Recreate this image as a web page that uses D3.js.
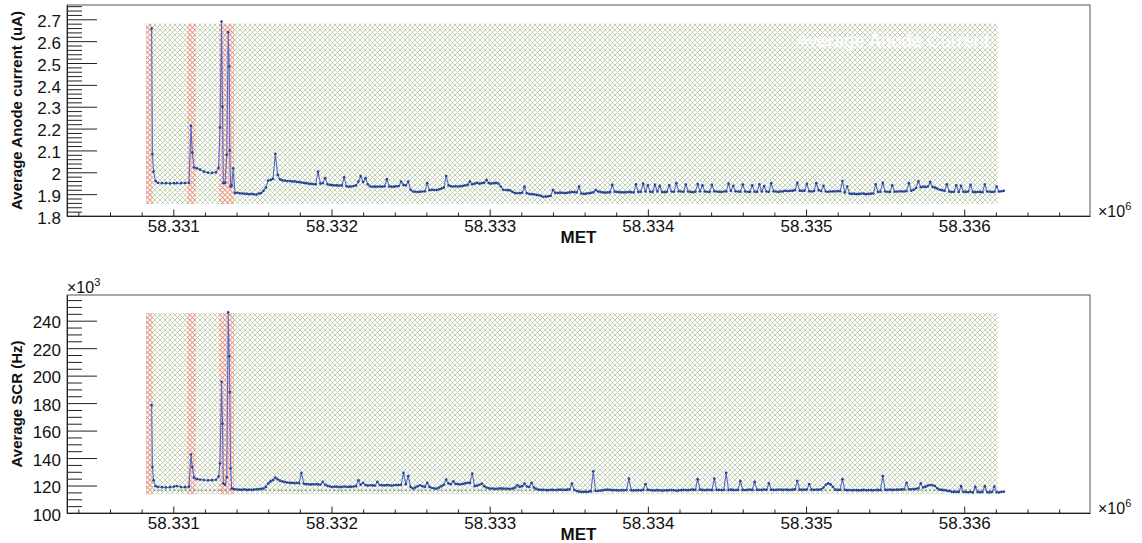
<!DOCTYPE html>
<html>
<head>
<meta charset="utf-8">
<script src="https://cdn.jsdelivr.net/npm/d3@7"></script>
<style>
  html, body { margin: 0; padding: 0; background: #fff; }
  svg { display: block; font-family: "Liberation Sans", Arial, Helvetica, sans-serif; }
</style>
</head>
<body>
<svg id="chart" width="1142" height="543"></svg>
<script>
// Sample times, seconds after metStart
const metStart = 58330000;
const metOffsets = [
  863, 868, 875, 888, 903, 929, 954, 979, 1004, 1023,
  1049, 1074, 1099, 1112, 1120, 1131, 1150, 1169, 1194, 1220,
  1245, 1270, 1286, 1295, 1305, 1311, 1316, 1327, 1338, 1347,
  1354, 1357, 1362, 1369, 1379,
  1390, 1405, 1420, 1435, 1450, 1465, 1480, 1495, 1510, 1525,
  1540, 1555, 1570, 1585, 1600, 1615, 1630, 1645, 1660, 1675,
  1690, 1705, 1720, 1735, 1750, 1765, 1780, 1795, 1810, 1825,
  1840, 1855, 1870, 1885, 1900, 1915, 1930, 1945, 1960, 1975,
  1990, 2005, 2020, 2035, 2050, 2065, 2080, 2095, 2110, 2125,
  2140, 2155, 2170, 2185, 2200, 2215, 2230, 2245, 2260, 2275,
  2290, 2305, 2320, 2335, 2350, 2365, 2380, 2395, 2410, 2425,
  2440, 2455, 2470, 2485, 2500, 2515, 2530, 2545, 2560, 2575,
  2590, 2605, 2620, 2635, 2650, 2665, 2680, 2695, 2710, 2725,
  2740, 2755, 2770, 2785, 2800, 2815, 2830, 2845, 2860, 2875,
  2890, 2905, 2920, 2935, 2950, 2965, 2980, 2995, 3010, 3025,
  3040, 3055, 3070, 3085, 3100, 3115, 3130, 3145, 3160, 3175,
  3190, 3205, 3220, 3235, 3250, 3265, 3280, 3295, 3310, 3325,
  3340, 3355, 3370, 3385, 3400, 3415, 3430, 3445, 3460, 3475,
  3490, 3505, 3520, 3535, 3550, 3565, 3580, 3595, 3610, 3625,
  3640, 3655, 3670, 3685, 3700, 3715, 3730, 3745, 3760, 3775,
  3790, 3805, 3820, 3835, 3850, 3865, 3880, 3895, 3910, 3925,
  3940, 3955, 3970, 3985, 4000, 4015, 4030, 4045, 4060, 4075,
  4090, 4105, 4120, 4135, 4150, 4165, 4180, 4195, 4210, 4225,
  4240, 4255, 4270, 4285, 4300, 4315, 4330, 4345, 4360, 4375,
  4390, 4405, 4420, 4435, 4450, 4465, 4480, 4495, 4510, 4525,
  4540, 4555, 4570, 4585, 4600, 4615, 4630, 4645, 4660, 4675,
  4690, 4705, 4720, 4735, 4750, 4765, 4780, 4795, 4810, 4825,
  4840, 4855, 4870, 4885, 4900, 4915, 4930, 4945, 4960, 4975,
  4990, 5005, 5020, 5035, 5050, 5065, 5080, 5095, 5110, 5125,
  5140, 5155, 5170, 5185, 5200, 5215, 5230, 5245, 5260, 5275,
  5290, 5305, 5320, 5335, 5350, 5365, 5380, 5395, 5410, 5425,
  5440, 5455, 5470, 5485, 5500, 5515, 5530, 5545, 5560, 5575,
  5590, 5605, 5620, 5635, 5650, 5665, 5680, 5695, 5710, 5725,
  5740, 5755, 5770, 5785, 5800, 5815, 5830, 5845, 5860, 5875,
  5890, 5905, 5920, 5935, 5950, 5965, 5980, 5995, 6010, 6025,
  6040, 6055, 6070, 6085, 6100, 6115, 6130, 6145, 6160, 6175,
  6190, 6205, 6220, 6235, 6250
];

// Average anode current (uA)
const anodeCurrent = [
  2.657, 2.084, 2.003, 1.960, 1.952, 1.950, 1.950, 1.949, 1.950, 1.950,
  1.950, 1.951, 1.952, 2.212, 2.090, 2.022, 2.018, 2.012, 2.003, 1.998,
  1.997, 2.000, 2.020, 2.205, 2.690, 2.300, 1.950, 1.952, 2.080, 2.641,
  2.484, 2.100, 1.934, 1.940, 2.018,
  1.905, 1.906, 1.904, 1.903, 1.902, 1.901, 1.900, 1.901, 1.899, 1.898,
  1.903, 1.905, 1.915, 1.930, 1.962, 1.965, 1.970, 2.084, 1.988, 1.968,
  1.963, 1.962, 1.960, 1.960, 1.958, 1.958, 1.956, 1.955, 1.953, 1.952,
  1.950, 1.948, 1.947, 1.946, 1.945, 2.003, 1.948, 1.950, 1.973, 1.945,
  1.942, 1.941, 1.940, 1.940, 1.939, 1.940, 1.977, 1.936, 1.934, 1.935,
  1.937, 1.940, 1.957, 1.983, 1.955, 1.973, 1.945, 1.935, 1.934, 1.934,
  1.934, 1.935, 1.934, 1.936, 1.968, 1.935, 1.934, 1.934, 1.936, 1.937,
  1.957, 1.942, 1.940, 1.957, 1.920, 1.912, 1.911, 1.910, 1.911, 1.912,
  1.913, 1.950, 1.918, 1.920, 1.919, 1.919, 1.922, 1.925, 1.930, 1.983,
  1.940, 1.936, 1.935, 1.936, 1.935, 1.936, 1.938, 1.940, 1.942, 1.957,
  1.945, 1.948, 1.952, 1.948, 1.950, 1.952, 1.965, 1.950, 1.948, 1.950,
  1.952, 1.948, 1.935, 1.920, 1.919, 1.918, 1.917, 1.910, 1.905, 1.904,
  1.905, 1.906, 1.934, 1.904, 1.901, 1.900, 1.899, 1.897, 1.895, 1.892,
  1.888, 1.889, 1.890, 1.892, 1.919, 1.906, 1.905, 1.907, 1.906, 1.905,
  1.906, 1.908, 1.910, 1.909, 1.908, 1.934, 1.903, 1.901, 1.902, 1.904,
  1.906, 1.908, 1.919, 1.912, 1.910, 1.908, 1.907, 1.908, 1.909, 1.942,
  1.911, 1.910, 1.909, 1.908, 1.908, 1.909, 1.910, 1.909, 1.908, 1.945,
  1.910, 1.911, 1.948, 1.912, 1.940, 1.911, 1.910, 1.943, 1.912, 1.938,
  1.910, 1.909, 1.911, 1.940, 1.912, 1.911, 1.950, 1.913, 1.912, 1.911,
  1.944, 1.912, 1.910, 1.909, 1.911, 1.946, 1.913, 1.940, 1.912, 1.911,
  1.910, 1.942, 1.913, 1.912, 1.911, 1.910, 1.912, 1.913, 1.948, 1.915,
  1.938, 1.913, 1.912, 1.911, 1.944, 1.912, 1.911, 1.910, 1.940, 1.911,
  1.910, 1.945, 1.912, 1.937, 1.912, 1.911, 1.950, 1.913, 1.912, 1.910,
  1.912, 1.913, 1.915, 1.914, 1.915, 1.916, 1.918, 1.952, 1.916, 1.915,
  1.916, 1.947, 1.913, 1.912, 1.914, 1.950, 1.918, 1.914, 1.938, 1.912,
  1.911, 1.912, 1.913, 1.912, 1.914, 1.913, 1.960, 1.908, 1.935, 1.903,
  1.901, 1.902, 1.900, 1.901, 1.903, 1.902, 1.900, 1.901, 1.902, 1.903,
  1.945, 1.910, 1.911, 1.952, 1.912, 1.911, 1.910, 1.940, 1.911, 1.912,
  1.912, 1.913, 1.912, 1.914, 1.950, 1.915, 1.920, 1.928, 1.958, 1.932,
  1.934, 1.933, 1.935, 1.955, 1.933, 1.930, 1.925, 1.920, 1.918, 1.915,
  1.945, 1.912, 1.910, 1.911, 1.940, 1.910, 1.938, 1.911, 1.910, 1.912,
  1.942, 1.910, 1.909, 1.911, 1.910, 1.909, 1.944, 1.912, 1.911, 1.910,
  1.911, 1.935, 1.912, 1.913, 1.915
];

// Average SCR, in units of 10^3 Hz
const scrRate = [
  178.5, 133.5, 123.8, 119.5, 119.0, 118.8, 118.6, 118.8, 119.2, 119.6,
  118.9, 118.8, 119.2, 142.6, 133.5, 125.8, 124.6, 124.3, 124.0, 123.8,
  123.9, 124.2, 126.5, 136.0, 195.5, 165.0, 121.4, 120.5, 126.0, 246.0,
  214.0, 188.0, 132.4, 117.8, 117.5,
  117.3, 117.1, 117.0, 116.9, 117.2, 116.8, 117.0, 116.9, 117.1, 117.2,
  117.4, 117.6, 117.8, 119.0, 121.5, 123.0, 124.0, 125.8, 124.5, 123.5,
  123.0, 122.5, 122.2, 122.0, 121.9, 121.8, 121.9, 121.7, 129.2, 121.3,
  121.0, 120.9, 120.8, 120.9, 121.0, 120.8, 120.7, 122.6, 120.5, 119.8,
  119.3, 119.0, 119.1, 119.2, 118.9, 119.0, 119.3, 119.1, 119.0, 119.2,
  119.3, 119.5, 123.8, 120.5, 121.9, 120.3, 120.0, 120.2, 120.1, 120.0,
  122.6, 120.4, 120.2, 120.1, 120.3, 120.2, 120.0, 120.2, 120.4, 120.3,
  120.5, 129.2, 121.0, 126.8, 119.0, 117.8, 118.5, 119.5, 120.2, 119.5,
  119.0, 121.9, 119.0, 118.2, 117.9, 117.8, 118.5, 119.5, 120.5, 124.3,
  121.5, 121.0, 123.1, 121.2, 121.0, 120.9, 121.2, 121.5, 121.9, 122.0,
  128.7, 119.5, 120.0, 120.5, 121.4, 119.5, 118.5, 117.9, 117.8, 117.7,
  117.6, 117.8, 117.9, 117.7, 117.8, 117.6, 117.5, 117.8, 118.5, 120.2,
  119.0, 119.5, 121.4, 119.3, 119.0, 121.9, 118.5, 117.5, 117.0, 116.8,
  116.9, 116.7, 116.6, 116.8, 116.9, 116.7, 116.8, 117.0, 116.9, 116.8,
  117.0, 117.2, 121.4, 116.8, 116.0, 115.5, 115.3, 115.4, 115.3, 115.5,
  115.8, 130.4, 116.0, 116.2, 116.3, 116.5, 116.8, 117.0, 116.8, 116.6,
  116.6, 116.5, 116.4, 116.6, 116.5, 116.7, 125.0, 116.6, 116.4, 116.5,
  116.6, 116.4, 116.8, 121.0, 116.9, 116.7, 116.5, 116.4, 116.6, 116.5,
  116.3, 116.5, 116.4, 116.6, 116.7, 116.5, 116.3, 116.4, 116.6, 116.8,
  116.7, 116.6, 116.9, 117.0, 116.8, 124.6, 117.0, 116.8, 116.6, 116.9,
  116.8, 116.7, 125.0, 116.9, 116.8, 116.7, 116.9, 129.2, 116.8, 117.0,
  116.8, 116.7, 116.9, 123.3, 116.8, 116.7, 116.9, 117.0, 116.8, 122.6,
  117.0, 116.9, 116.8, 117.1, 116.9, 121.5, 117.0, 116.8, 116.9, 117.1,
  117.0, 116.9, 117.1, 116.9, 116.8, 117.0, 117.2, 123.3, 117.0, 116.9,
  117.0, 117.1, 121.0, 117.0, 116.9, 117.1, 117.0, 117.3, 118.5, 120.5,
  121.5, 120.8, 119.0, 117.0, 116.8, 116.9, 124.6, 116.8, 116.6, 116.7,
  116.5, 116.7, 116.6, 116.4, 116.6, 116.8, 116.5, 116.7, 116.6, 116.5,
  116.7, 116.8, 116.6, 126.8, 116.8, 116.9, 117.0, 116.8, 116.9, 117.0,
  117.0, 117.2, 117.1, 122.0, 117.3, 117.2, 117.4, 117.5, 118.0, 121.5,
  118.5, 119.2, 120.0, 120.3, 120.2, 119.6, 118.0, 117.0, 116.8, 116.6,
  116.3, 116.0, 115.5, 115.3, 115.4, 115.2, 119.5, 115.3, 115.2, 115.1,
  115.3, 115.0, 119.0, 115.2, 115.1, 115.3, 119.5, 115.2, 115.0, 115.3,
  119.2, 115.1, 115.0, 115.4, 115.5
];

// Axis ticks
const xMajorTicks = [58331000, 58332000, 58333000, 58334000, 58335000, 58336000];
const xTickLabels = ["58.331", "58.332", "58.333", "58.334", "58.335", "58.336"];
const anodeTicks = [1.8, 1.9, 2.0, 2.1, 2.2, 2.3, 2.4, 2.5, 2.6, 2.7];
const anodeTickLabels = ["1.8", "1.9", "2", "2.1", "2.2", "2.3", "2.4", "2.5", "2.6", "2.7"];
const scrTicks = [100, 120, 140, 160, 180, 200, 220, 240];
const scrTickLabels = ["100", "120", "140", "160", "180", "200", "220", "240"];

// Good-time window (green) and excluded intervals (red)
const goodWindow = [58330872, 58336213];
const badWindows = [[58330827, 58330872], [58331087, 58331143], [58331289, 58331384]];
const anodeBand = [1.855, 2.68];
const scrBand = [113.6, 245.6];
const scrReference = 116.6;

const svg = d3.select("#chart");
const FONT = "'Liberation Sans', Arial, Helvetica, sans-serif";

// Hatch patterns
const defs = svg.append("defs");
function hatch(id, c1, c2, w) {
  const p = defs.append("pattern").attr("id", id)
    .attr("patternUnits", "userSpaceOnUse").attr("width", 5).attr("height", 5);
  p.append("path").attr("d", "M-1,-1L6,6M-1,4L1,6M4,-1L6,1").attr("stroke", c1).attr("stroke-width", w);
  p.append("path").attr("d", "M6,-1L-1,6M-1,1L1,-1M4,6L6,4").attr("stroke", c2).attr("stroke-width", w);
}
hatch("hatchGood", "#b7d69a", "#c0c4b8", 0.9);
hatch("hatchBad", "#e6937e", "#e4a191", 1.1);

const x = d3.scaleLinear().domain([58330328, 58336795]).range([67, 1090]);
const xMinor = d3.range(58330400, 58336800, 200).filter(v => v % 1000 !== 0);

function panel(cfg) {
  const g = svg.append("g");
  const y = d3.scaleLinear().domain(cfg.yDomain).range([cfg.bottom, cfg.top]);
  const bandY = y(cfg.band[1]), bandH = y(cfg.band[0]) - y(cfg.band[1]);

  // shaded windows
  g.append("rect")
    .attr("x", x(goodWindow[0])).attr("width", x(goodWindow[1]) - x(goodWindow[0]))
    .attr("y", bandY).attr("height", bandH)
    .attr("fill", "url(#hatchGood)");
  badWindows.forEach(w => {
    g.append("rect")
      .attr("x", x(w[0])).attr("width", x(w[1]) - x(w[0]))
      .attr("y", bandY).attr("height", bandH).attr("fill", "#fff");
    g.append("rect")
      .attr("x", x(w[0])).attr("width", x(w[1]) - x(w[0]))
      .attr("y", bandY).attr("height", bandH).attr("fill", "url(#hatchBad)");
  });

  if (cfg.reference !== undefined) {
    g.append("line")
      .attr("x1", x(goodWindow[0])).attr("x2", x(goodWindow[1]))
      .attr("y1", y(cfg.reference)).attr("y2", y(cfg.reference))
      .attr("stroke", "#777").attr("stroke-width", 1).attr("stroke-dasharray", "2,2");
  }

  // series
  const pts = metOffsets.map((t, i) => [metStart + t, cfg.values[i]]);
  g.append("path").datum(pts)
    .attr("fill", "none").attr("stroke", "#506cc4").attr("stroke-width", 1.1)
    .attr("d", d3.line().x(d => x(d[0])).y(d => y(d[1])));
  g.selectAll("circle.pt").data(pts).join("circle")
    .attr("class", "pt")
    .attr("cx", d => x(d[0])).attr("cy", d => y(d[1])).attr("r", 1.35)
    .attr("fill", "#2b4596");

  // frame
  g.append("rect").attr("x", 67).attr("y", cfg.top).attr("width", 1090 - 67).attr("height", cfg.bottom - cfg.top)
    .attr("fill", "none").attr("stroke", "#555").attr("stroke-width", 1);

  // y axis
  const yAxis = d3.axisLeft(y).tickValues(cfg.yTicks).tickFormat((d, i) => cfg.yLabels[i])
    .tickSizeInner(-30).tickSizeOuter(0).tickPadding(6);
  const ya = g.append("g").attr("transform", "translate(67,0)").call(yAxis);
  ya.selectAll("text").attr("font-family", FONT).attr("font-size", 17).attr("fill", "#111").attr("dy", "0.42em");
  ya.select(".domain").attr("stroke", "#222");
  ya.selectAll(".tick line").attr("stroke", "#222");
  const ym = g.append("g").attr("transform", "translate(67,0)")
    .call(d3.axisLeft(y).tickValues(cfg.yMinor).tickFormat("").tickSizeInner(-15).tickSizeOuter(0));
  ym.select(".domain").remove();
  ym.selectAll(".tick line").attr("stroke", "#222");

  // x axis
  const xAxis = d3.axisBottom(x).tickValues(xMajorTicks).tickFormat((d, i) => xTickLabels[i])
    .tickSizeInner(-6.5).tickSizeOuter(0).tickPadding(4);
  const xa = g.append("g").attr("transform", `translate(0,${cfg.bottom})`).call(xAxis);
  xa.selectAll("text").attr("font-family", FONT).attr("font-size", 17).attr("fill", "#111");
  xa.select(".domain").attr("stroke", "#222");
  xa.selectAll(".tick line").attr("stroke", "#222");
  const xm = g.append("g").attr("transform", `translate(0,${cfg.bottom})`)
    .call(d3.axisBottom(x).tickValues(xMinor).tickFormat("").tickSizeInner(-3.5).tickSizeOuter(0));
  xm.select(".domain").remove();
  xm.selectAll(".tick line").attr("stroke", "#222");

  // titles
  g.append("text").attr("x", 578.5).attr("y", cfg.bottom + 27)
    .attr("text-anchor", "middle").attr("font-family", FONT).attr("font-weight", "bold")
    .attr("font-size", 17).attr("fill", "#111").text("MET");
  g.append("text")
    .attr("transform", `translate(22,${(cfg.top + cfg.bottom) / 2}) rotate(-90)`)
    .attr("text-anchor", "middle").attr("font-family", FONT).attr("font-weight", "bold")
    .attr("font-size", 15).attr("fill", "#111").text(cfg.yTitle);

  const ex = g.append("text").attr("x", 1098).attr("y", cfg.bottom + 1)
    .attr("font-family", FONT).attr("font-size", 16).attr("fill", "#111");
  ex.append("tspan").text("\u00d710");
  ex.append("tspan").attr("font-size", 11).attr("dy", -7).text("6");
  return { g, y };
}

const anodeMinor = d3.range(1.82, 2.77, 0.02).filter(v => Math.abs(v * 10 - Math.round(v * 10)) > 1e-6);
const anodePanel = panel({
  top: 5, bottom: 216, yDomain: [1.8, 2.7654],
  values: anodeCurrent, band: anodeBand,
  yTicks: anodeTicks, yLabels: anodeTickLabels, yMinor: anodeMinor,
  yTitle: "Average Anode current (uA)"
});
anodePanel.g.append("text").attr("x", 796).attr("y", 47)
  .attr("font-family", FONT).attr("font-size", 18.5).attr("fill", "#fff")
  .text("Average Anode Current");

const scrMinor = d3.range(105, 258, 5).filter(v => v % 20 !== 0);
const scrPanel = panel({
  top: 295, bottom: 513, yDomain: [100, 258.7],
  values: scrRate, band: scrBand, reference: scrReference,
  yTicks: scrTicks, yLabels: scrTickLabels, yMinor: scrMinor,
  yTitle: "Average SCR (Hz)"
});
const mult = scrPanel.g.append("text").attr("x", 67).attr("y", 293)
  .attr("font-family", FONT).attr("font-size", 16).attr("fill", "#111");
mult.append("tspan").text("\u00d710");
mult.append("tspan").attr("font-size", 11).attr("dy", -7).text("3");
</script>
</body>
</html>
